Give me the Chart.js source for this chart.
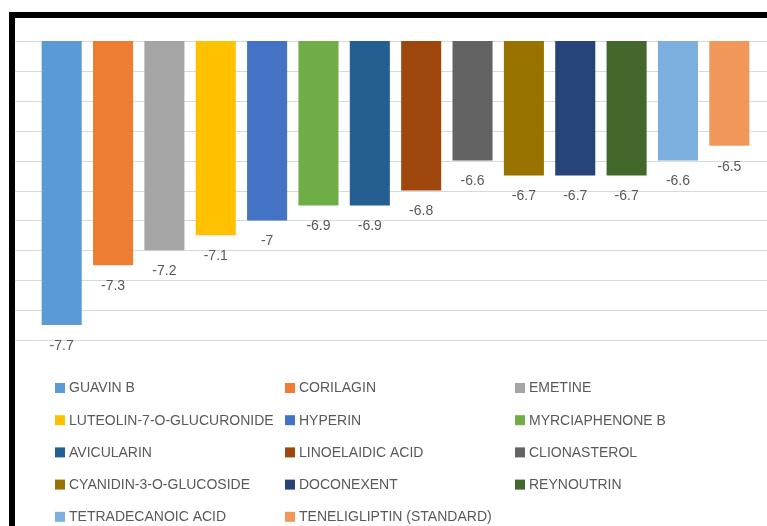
<!DOCTYPE html>
<html>
<head>
<meta charset="utf-8">
<script src="https://cdn.jsdelivr.net/npm/chart.js@4"></script>
<style>
  html, body { margin: 0; padding: 0; background: #fff; }
  #wrap { position: relative; width: 767px; height: 526px; overflow: hidden; }
  #frame {
    position: absolute; left: 9px; top: 12px; right: -10px; bottom: -10px;
    border-top: 6px solid #000; border-left: 6px solid #000;
    pointer-events: none;
  }
</style>
</head>
<body>
<div id="wrap">
  <canvas id="c" width="767" height="526"></canvas>
  <div id="frame"></div>
</div>
<script>
// Docking scores (kcal/mol)
const compounds = [
  'GUAVIN B', 'CORILAGIN', 'EMETINE', 'LUTEOLIN-7-O-GLUCURONIDE', 'HYPERIN',
  'MYRCIAPHENONE B', 'AVICULARIN', 'LINOELAIDIC ACID', 'CLIONASTEROL',
  'CYANIDIN-3-O-GLUCOSIDE', 'DOCONEXENT', 'REYNOUTRIN', 'TETRADECANOIC ACID',
  'TENELIGLIPTIN (STANDARD)'
];
const scores = [-7.7, -7.3, -7.2, -7.1, -7.0, -6.9, -6.9, -6.8, -6.6, -6.7, -6.7, -6.7, -6.6, -6.5];
const barColors = [
  '#5B9BD5', '#ED7D31', '#A5A5A5', '#FFC000', '#4472C4', '#70AD47', '#255E91',
  '#9E480E', '#636363', '#997300', '#264478', '#43682B', '#7CAFDD', '#F1975A'
];

const TEXT = '#595959';
const FONT = '"Liberation Sans", Arial, sans-serif';

// Gitternetz ueber die ganze Breite
const gridPlugin = {
  id: 'wideGrid',
  beforeDatasetsDraw(chart) {
    const { ctx } = chart;
    const y = chart.scales.y;
    ctx.save();
    ctx.strokeStyle = '#d9d9d9';
    ctx.lineWidth = 1;
    y.ticks.forEach(t => {
      const py = Math.round(y.getPixelForValue(t.value)) + 0.5;
      ctx.beginPath();
      ctx.moveTo(15, py);
      ctx.lineTo(chart.width, py);
      ctx.stroke();
    });
    ctx.restore();
  }
};

// Werte unter den Balken
const valueLabels = {
  id: 'valueLabels',
  afterDatasetsDraw(chart) {
    const { ctx } = chart;
    const meta = chart.getDatasetMeta(0);
    ctx.save();
    ctx.font = '14px ' + FONT;
    ctx.fillStyle = TEXT;
    ctx.textAlign = 'center';
    ctx.textBaseline = 'middle';
    meta.data.forEach((bar, i) => {
      ctx.fillText(String(scores[i]), bar.x, bar.y + 21);
    });
    ctx.restore();
  }
};

// Legende in drei Spalten
const legendPlugin = {
  id: 'gridLegend',
  afterDraw(chart) {
    const { ctx } = chart;
    const cols = [55, 285, 515];
    const top = 388, rowH = 32.2;
    ctx.save();
    ctx.font = '14px ' + FONT;
    ctx.textBaseline = 'middle';
    ctx.textAlign = 'left';
    chart.data.labels.forEach((lbl, i) => {
      const x = cols[i % 3];
      const y = top + Math.floor(i / 3) * rowH;
      ctx.fillStyle = barColors[i];
      ctx.fillRect(x, y - 5, 10, 10);
      ctx.fillStyle = TEXT;
      ctx.fillText(lbl, x + 14, y + 0.5);
    });
    ctx.restore();
  }
};

new Chart(document.getElementById('c'), {
  type: 'bar',
  data: {
    labels: compounds,
    datasets: [{
      data: scores,
      backgroundColor: barColors,
      borderWidth: 0,
      barPercentage: 0.78,
      categoryPercentage: 1.0
    }]
  },
  options: {
    responsive: false,
    animation: false,
    devicePixelRatio: 1,
    layout: { padding: { top: 41, left: 36, right: 12, bottom: 186 } },
    plugins: { legend: { display: false }, tooltip: { enabled: false } },
    scales: {
      x: { display: false },
      y: {
        display: false,
        min: -7.8,
        max: -5.8,
        beginAtZero: false,
        ticks: { stepSize: 0.2 }
      }
    }
  },
  plugins: [gridPlugin, valueLabels, legendPlugin]
});
</script>
</body>
</html>
